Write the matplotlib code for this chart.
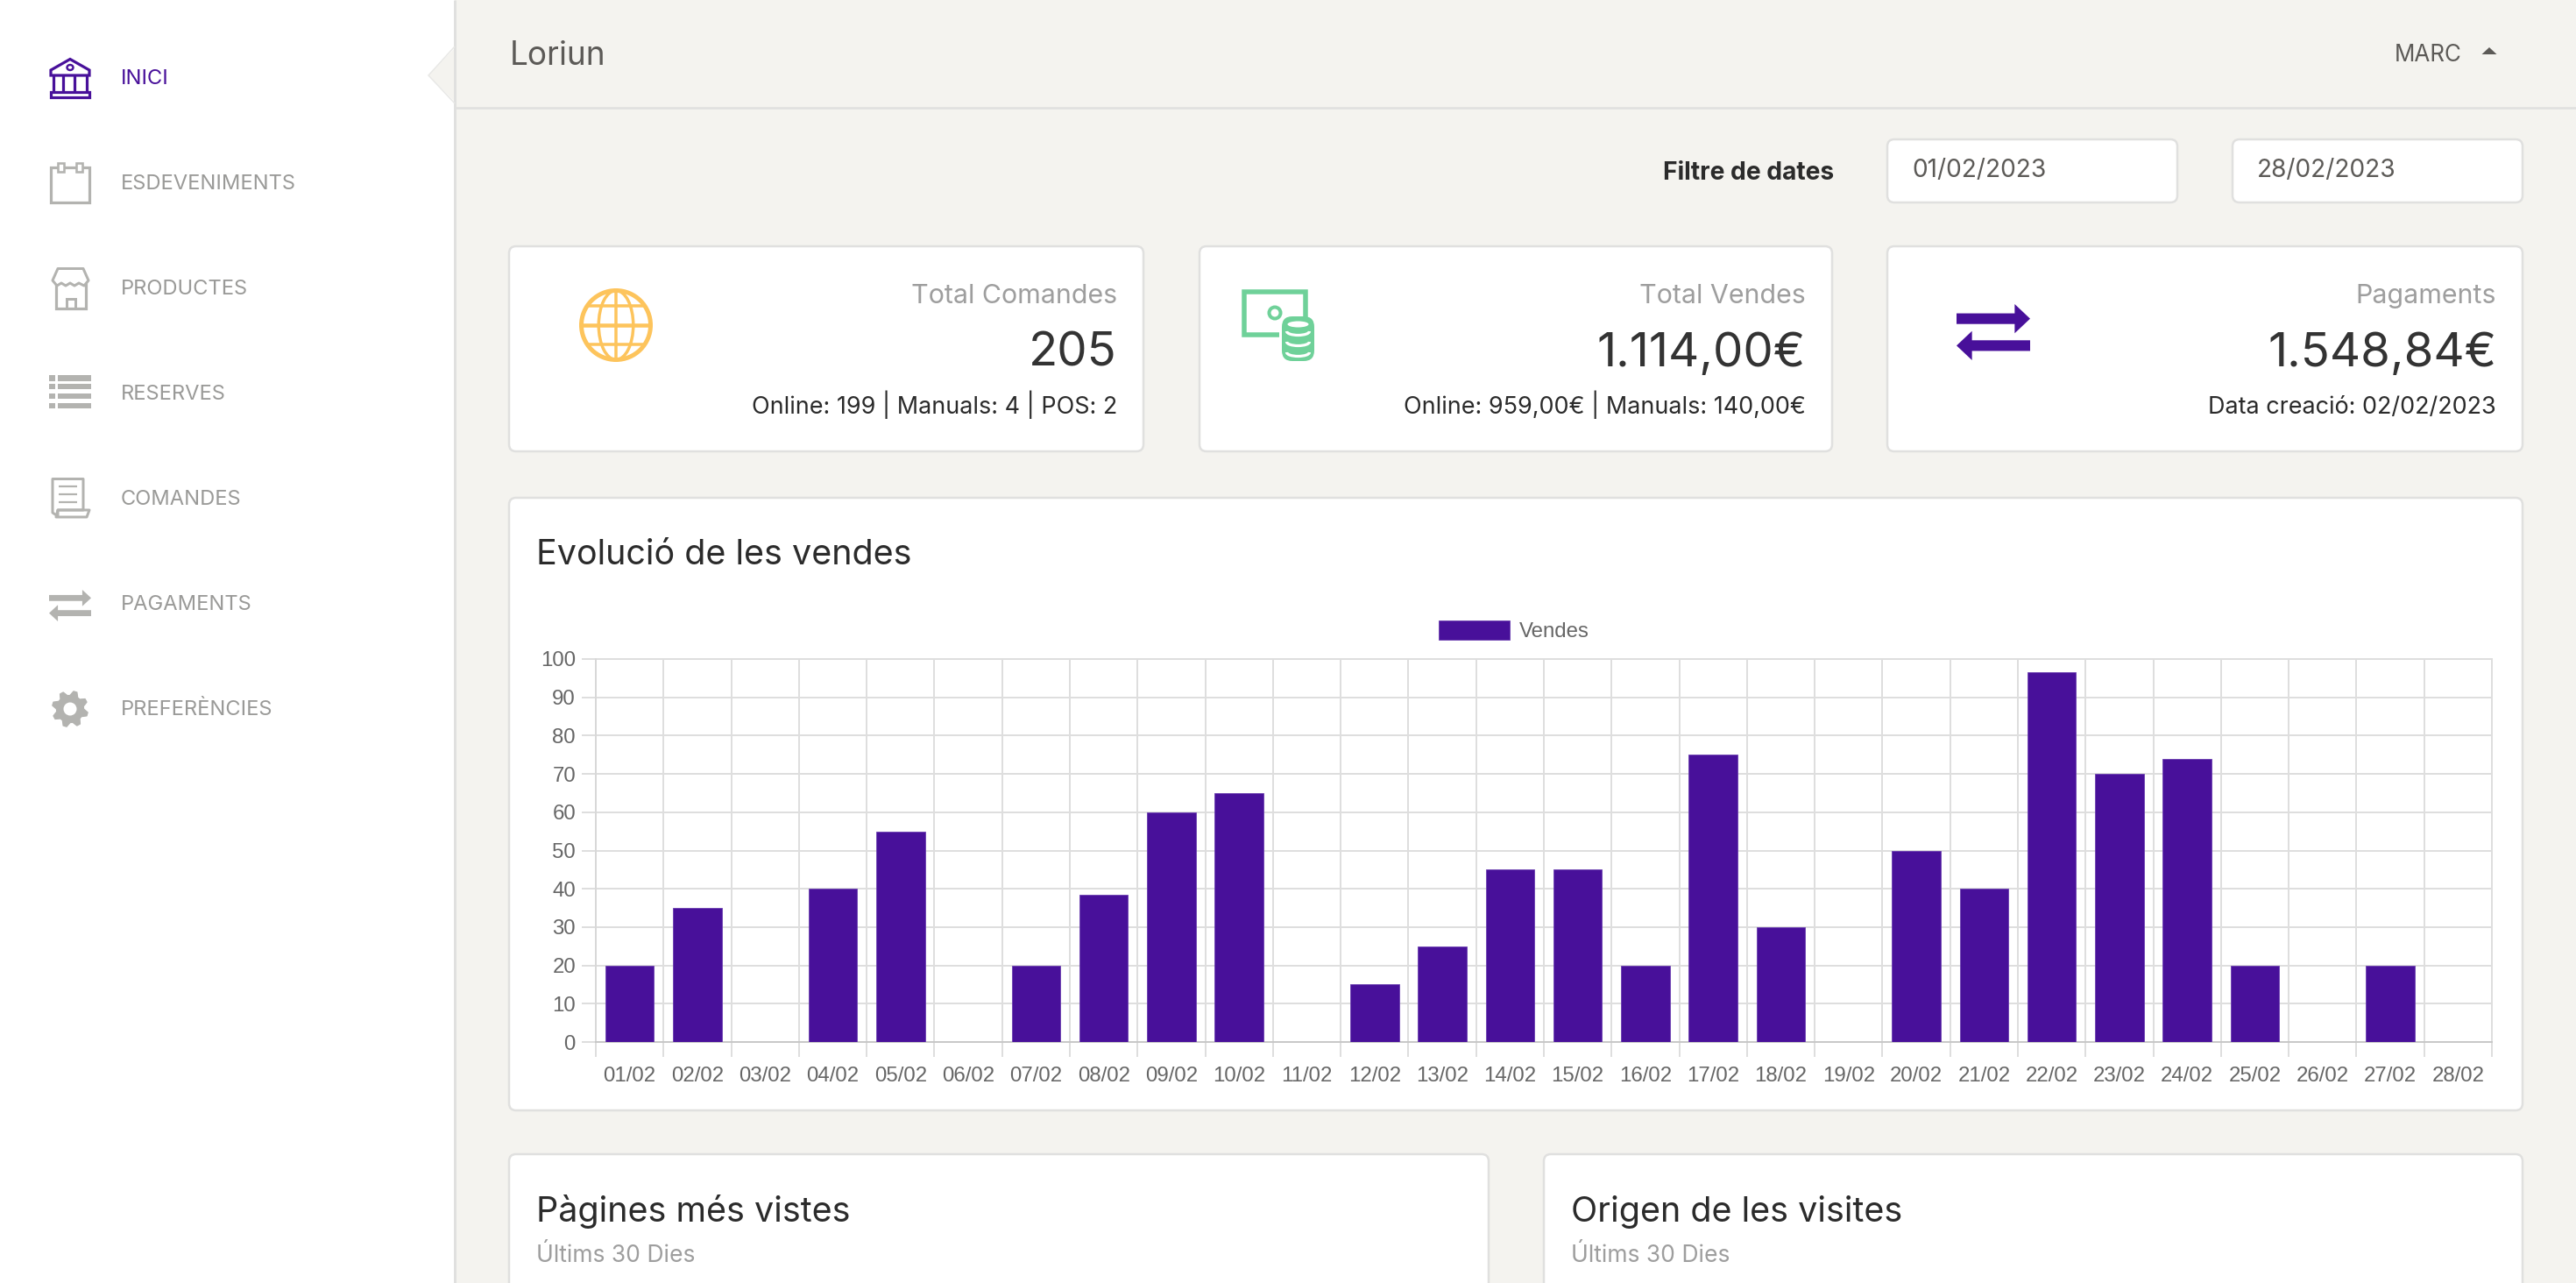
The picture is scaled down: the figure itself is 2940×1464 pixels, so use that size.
import matplotlib
matplotlib.use("Agg")
import matplotlib.pyplot as plt
from matplotlib.patches import FancyBboxPatch, Rectangle, Polygon, Circle, Ellipse, Arc
import numpy as np

# ---------- data ----------
dies = ["01/02","02/02","03/02","04/02","05/02","06/02","07/02","08/02","09/02","10/02",
        "11/02","12/02","13/02","14/02","15/02","16/02","17/02","18/02","19/02","20/02",
        "21/02","22/02","23/02","24/02","25/02","26/02","27/02","28/02"]
vendes = [20,35,0,40,55,0,20,38.5,60,65,0,15,25,45,45,20,75,30,0,50,40,96.5,70,74,20,0,20,0]
yticks = [0,10,20,30,40,50,60,70,80,90,100]
menu = ["INICI","ESDEVENIMENTS","PRODUCTES","RESERVES","COMANDES","PAGAMENTS","PREFERÈNCIES"]
card_titles = ["Total Comandes","Total Vendes","Pagaments"]
card_values = ["205","1.114,00€","1.548,84€"]
card_details = ["Online: 199 | Manuals: 4 | POS: 2","Online: 959,00€ | Manuals: 140,00€","Data creació: 02/02/2023"]
date_from, date_to = "01/02/2023", "28/02/2023"

# ---------- style ----------
W, H = 2940, 1464
BG = "#F4F3EF"; BORDER = "#E0E0DF"; PURPLE = "#48109A"; MENU_ICON = "#B3B3B0"; MENU_TXT = "#9A9A98"
DARK = "#2B2B2B"; MUTED = "#9E9E9E"; HEAD = "#5C5A57"; CHART_TXT = "#666666"; GRID = "#DEDEDE"
FONT = "Inter"
CHART_FONT = "Liberation Sans"

def pt(px):
    return px * 72 / 100

fig = plt.figure(figsize=(W/100, H/100), dpi=100, facecolor=BG)
bg = fig.add_axes([0, 0, 1, 1], zorder=0)
bg.set_xlim(0, W); bg.set_ylim(H, 0); bg.axis("off")

def T(x, y, s, px, color=DARK, ha="left", weight="normal", family=FONT):
    return bg.text(x, y, s, fontsize=pt(px), color=color, ha=ha, va="baseline",
                   fontweight=weight, family=family)

def card(x0, y0, x1, y1):
    bg.add_patch(FancyBboxPatch((x0, y0), x1-x0, y1-y0, boxstyle="round,pad=0,rounding_size=8",
                                fc="white", ec=BORDER, lw=pt(2.5)))

def R(x0, y0, x1, y1, c, **k):
    bg.add_patch(Rectangle((x0, y0), x1-x0, y1-y0, fc=c, ec="none", **k))

def L(xs, ys, c, lw=3.5, **k):
    bg.plot(xs, ys, color=c, lw=pt(lw), solid_capstyle="butt", solid_joinstyle="miter", **k)

def arrows(x0, x1, y0, y1, c):
    # pair of opposite arrows filling the given box
    h = y1 - y0; w = x1 - x0
    sh = h * 0.095; hw = h * 0.26; hl = w * 0.21
    c1 = y0 + hw; c2 = y1 - hw
    bg.add_patch(Polygon([(x0,c1-sh),(x1-hl,c1-sh),(x1-hl,c1-hw),(x1,c1),(x1-hl,c1+hw),(x1-hl,c1+sh),(x0,c1+sh)], fc=c, ec="none"))
    bg.add_patch(Polygon([(x1,c2-sh),(x0+hl,c2-sh),(x0+hl,c2-hw),(x0,c2),(x0+hl,c2+hw),(x0+hl,c2+sh),(x1,c2+sh)], fc=c, ec="none"))

# ---------- sidebar ----------
R(0, 0, 519, H, "white")
L([519, 519], [0, H], BORDER, lw=3)
L([519, W], [123, 123], BORDER, lw=2.5)
bg.add_patch(Polygon([(521, 53), (489, 86), (521, 118)], fc=BG, ec="none"))
L([519, 489, 519], [53, 86, 118], "#E8E8E6", lw=1.5)

rows = [88 + 120*i for i in range(7)]
for i, (label, cy) in enumerate(zip(menu, rows)):
    T(138, cy + 8, label, 23.7, PURPLE if i == 0 else MENU_TXT)

# bank
c = PURPLE
bg.add_patch(Polygon([(58,80),(80,67.5),(102,80),(102,86),(58,86)], fc="none", ec=c, lw=pt(3.2), joinstyle="miter"))
bg.add_patch(Ellipse((80,77), 7, 6, fc="none", ec=c, lw=pt(2.4)))
for xc in (61, 72, 85, 99.5):
    L([xc, xc], [86, 105], c, lw=3.2)
bg.add_patch(Rectangle((58.5,105), 44, 6, fc="none", ec=c, lw=pt(3.2)))
# calendar
c = MENU_ICON
bg.add_patch(Rectangle((58.5,191), 44, 40, fc="none", ec=c, lw=pt(3.2)))
for xa in (66, 87):
    bg.add_patch(Rectangle((xa,186), 7.5, 10, fc="white", ec=c, lw=pt(2.6)))
# store
bg.add_patch(Rectangle((64,322), 34, 29.5, fc="none", ec=c, lw=pt(3.2)))
bg.add_patch(Polygon([(66,306.5),(95,306.5),(101,320),(96,326),(90,323),(85,326),(80,323),(75,326),(70,323),(65,326),(60,320)],
                     fc="white", ec=c, lw=pt(3), joinstyle="round"))
bg.add_patch(Rectangle((76,341), 10, 11, fc="none", ec=c, lw=pt(3)))
# list
for ya, yb in ((428,435),(438,444),(449,455),(460,466)):
    R(56, ya, 63, yb, c); R(66, ya, 104, yb, c)
# scroll
bg.add_patch(Polygon([(60,546.5),(95,546.5),(95,582),(66,582),(66,589),(60,585)], fc="none", ec=c, lw=pt(3), joinstyle="round"))
bg.add_patch(Polygon([(66,582),(102,582),(99,590),(64,590)], fc="none", ec=c, lw=pt(3), joinstyle="round"))
for ya in (555, 564, 573):
    L([67, 88], [ya, ya], c, lw=2.2)
# arrows
arrows(56, 104, 673, 709, c)
# gear
n = 8
ang = np.linspace(0, 2*np.pi, n*4, endpoint=False) + np.pi/8 - np.pi/16 * 1.0
rad = np.tile([20.5, 20.5, 15.5, 15.5], n)
bg.add_patch(Polygon(np.c_[80 + rad*np.cos(ang), 809 + rad*np.sin(ang)], fc=c, ec=c, lw=1, joinstyle="round"))
bg.add_patch(Circle((80, 809), 7.5, fc="white", ec="none"))

# ---------- header ----------
T(582, 74, "Loriun", 37, HEAD)
T(2733, 70, "MARC", 26, HEAD)
bg.add_patch(Polygon([(2832.5,62),(2849.5,62),(2841,54)], fc=HEAD, ec="none"))

# ---------- date filter ----------
T(2093, 205, "Filtre de dates", 28.2, DARK, ha="right", weight="bold")
for (xa, xb), d in (((2154, 2485), date_from), ((2548, 2879), date_to)):
    card(xa, 159, xb, 231)
    T(xa + 28, 202, d, 28, HEAD)

# ---------- KPI cards ----------
card_x = [(581, 1305), (1369, 2091), (2154, 2879)]
for (xa, xb), t, v, d in zip(card_x, card_titles, card_values, card_details):
    card(xa, 281, xb, 515)
    T(xb - 30, 346, t, 30.4, MUTED, ha="right")
    T(xb - 30, 418, v, 54.5, "#333333", ha="right")
    T(xb - 30, 472, d, 27, DARK, ha="right")

# globe
c = "#FDC45C"; gx, gy, gr = 703, 371, 39.5
bg.add_patch(Circle((gx, gy), gr, fc="none", ec=c, lw=pt(5)))
bg.add_patch(Ellipse((gx, gy), gr, 2*gr, fc="none", ec=c, lw=pt(3.5)))
L([gx, gx], [gy-gr, gy+gr], c, lw=3.5)
for dy, lw in ((-22, 3.5), (0, 4.5), (22, 3.5)):
    hw = np.sqrt(gr**2 - dy**2)
    L([gx-hw, gx+hw], [gy+dy, gy+dy], c, lw=lw)

# money icon
c = "#6FD199"
L([1460, 1420.5, 1420.5, 1490.5, 1490.5], [381.5, 381.5, 332.5, 332.5, 365], c, lw=5.5)
bg.add_patch(Circle((1455, 357), 6.5, fc="none", ec=c, lw=pt(4)))
bg.add_patch(FancyBboxPatch((1463, 361), 37, 51, boxstyle="round,pad=0,rounding_size=12", fc=c, ec="none"))
bg.add_patch(Ellipse((1481.5, 370), 24, 7, fc="white", ec="none"))
for ya in (378, 390, 402):
    bg.add_patch(Arc((1481.5, ya), 26, 9, theta1=0, theta2=180, color="white", lw=pt(3.2)))

# transfer icon
arrows(2233, 2317, 347, 411, PURPLE)

# ---------- chart card ----------
card(581, 568, 2879, 1267)
T(612, 644, "Evolució de les vendes", 39.5, DARK)

px0, px1, py0, py1 = 680, 2844, 752, 1189
ax = fig.add_axes([px0/W, (H-py1)/H, (px1-px0)/W, (py1-py0)/H], zorder=1)
ax.patch.set_alpha(0)
xs = np.arange(len(vendes)) + 0.5
ax.bar(xs, vendes, width=0.72, color=PURPLE, edgecolor="#6A3DB0", linewidth=0.6, label="Vendes", zorder=3)
ax.set_xlim(0, len(vendes)); ax.set_ylim(0, 100)
ax.set_axisbelow(True)
ax.set_xticks(np.arange(len(vendes) + 1))
ax.set_xticklabels([])
ax.set_xticks(xs, minor=True)
ax.set_xticklabels(dies, minor=True, fontsize=pt(24), color=CHART_TXT, family=CHART_FONT)
ax.set_yticks(yticks)
ax.set_yticklabels([str(v) for v in yticks], fontsize=pt(24), color=CHART_TXT, family=CHART_FONT)
ax.tick_params(axis="x", which="major", length=pt(17), width=pt(2), color=GRID)
ax.tick_params(axis="x", which="minor", length=0, pad=pt(28))
ax.tick_params(axis="y", which="major", length=pt(16), width=pt(2), color=GRID, pad=pt(7))
ax.grid(True, which="major", color=GRID, lw=pt(2), clip_on=False)
for s in ("top", "right"):
    ax.spines[s].set_visible(False)
ax.spines["left"].set_color("#D8D8D8"); ax.spines["left"].set_linewidth(pt(2))
ax.spines["bottom"].set_color("#C8C8C8"); ax.spines["bottom"].set_linewidth(pt(2))
leg = ax.legend(loc="center", bbox_to_anchor=(1728, 720), bbox_transform=bg.transData, frameon=False,
                prop={"family": CHART_FONT, "size": pt(24)}, handlelength=81/24, handleheight=1,
                handletextpad=11/24, borderpad=0, borderaxespad=0)
leg.get_texts()[0].set_color(CHART_TXT)

# ---------- lower cards ----------
for xa, xb, title in ((581, 1699, "Pàgines més vistes"), (1762, 2879, "Origen de les visites")):
    card(xa, 1317, xb, 1500)
    T(xa + 31, 1394, title, 39.5, DARK)
    T(xa + 31, 1440, "Últims 30 Dies", 26.5, MUTED)

fig.savefig("out.png", dpi=100, facecolor=BG)
